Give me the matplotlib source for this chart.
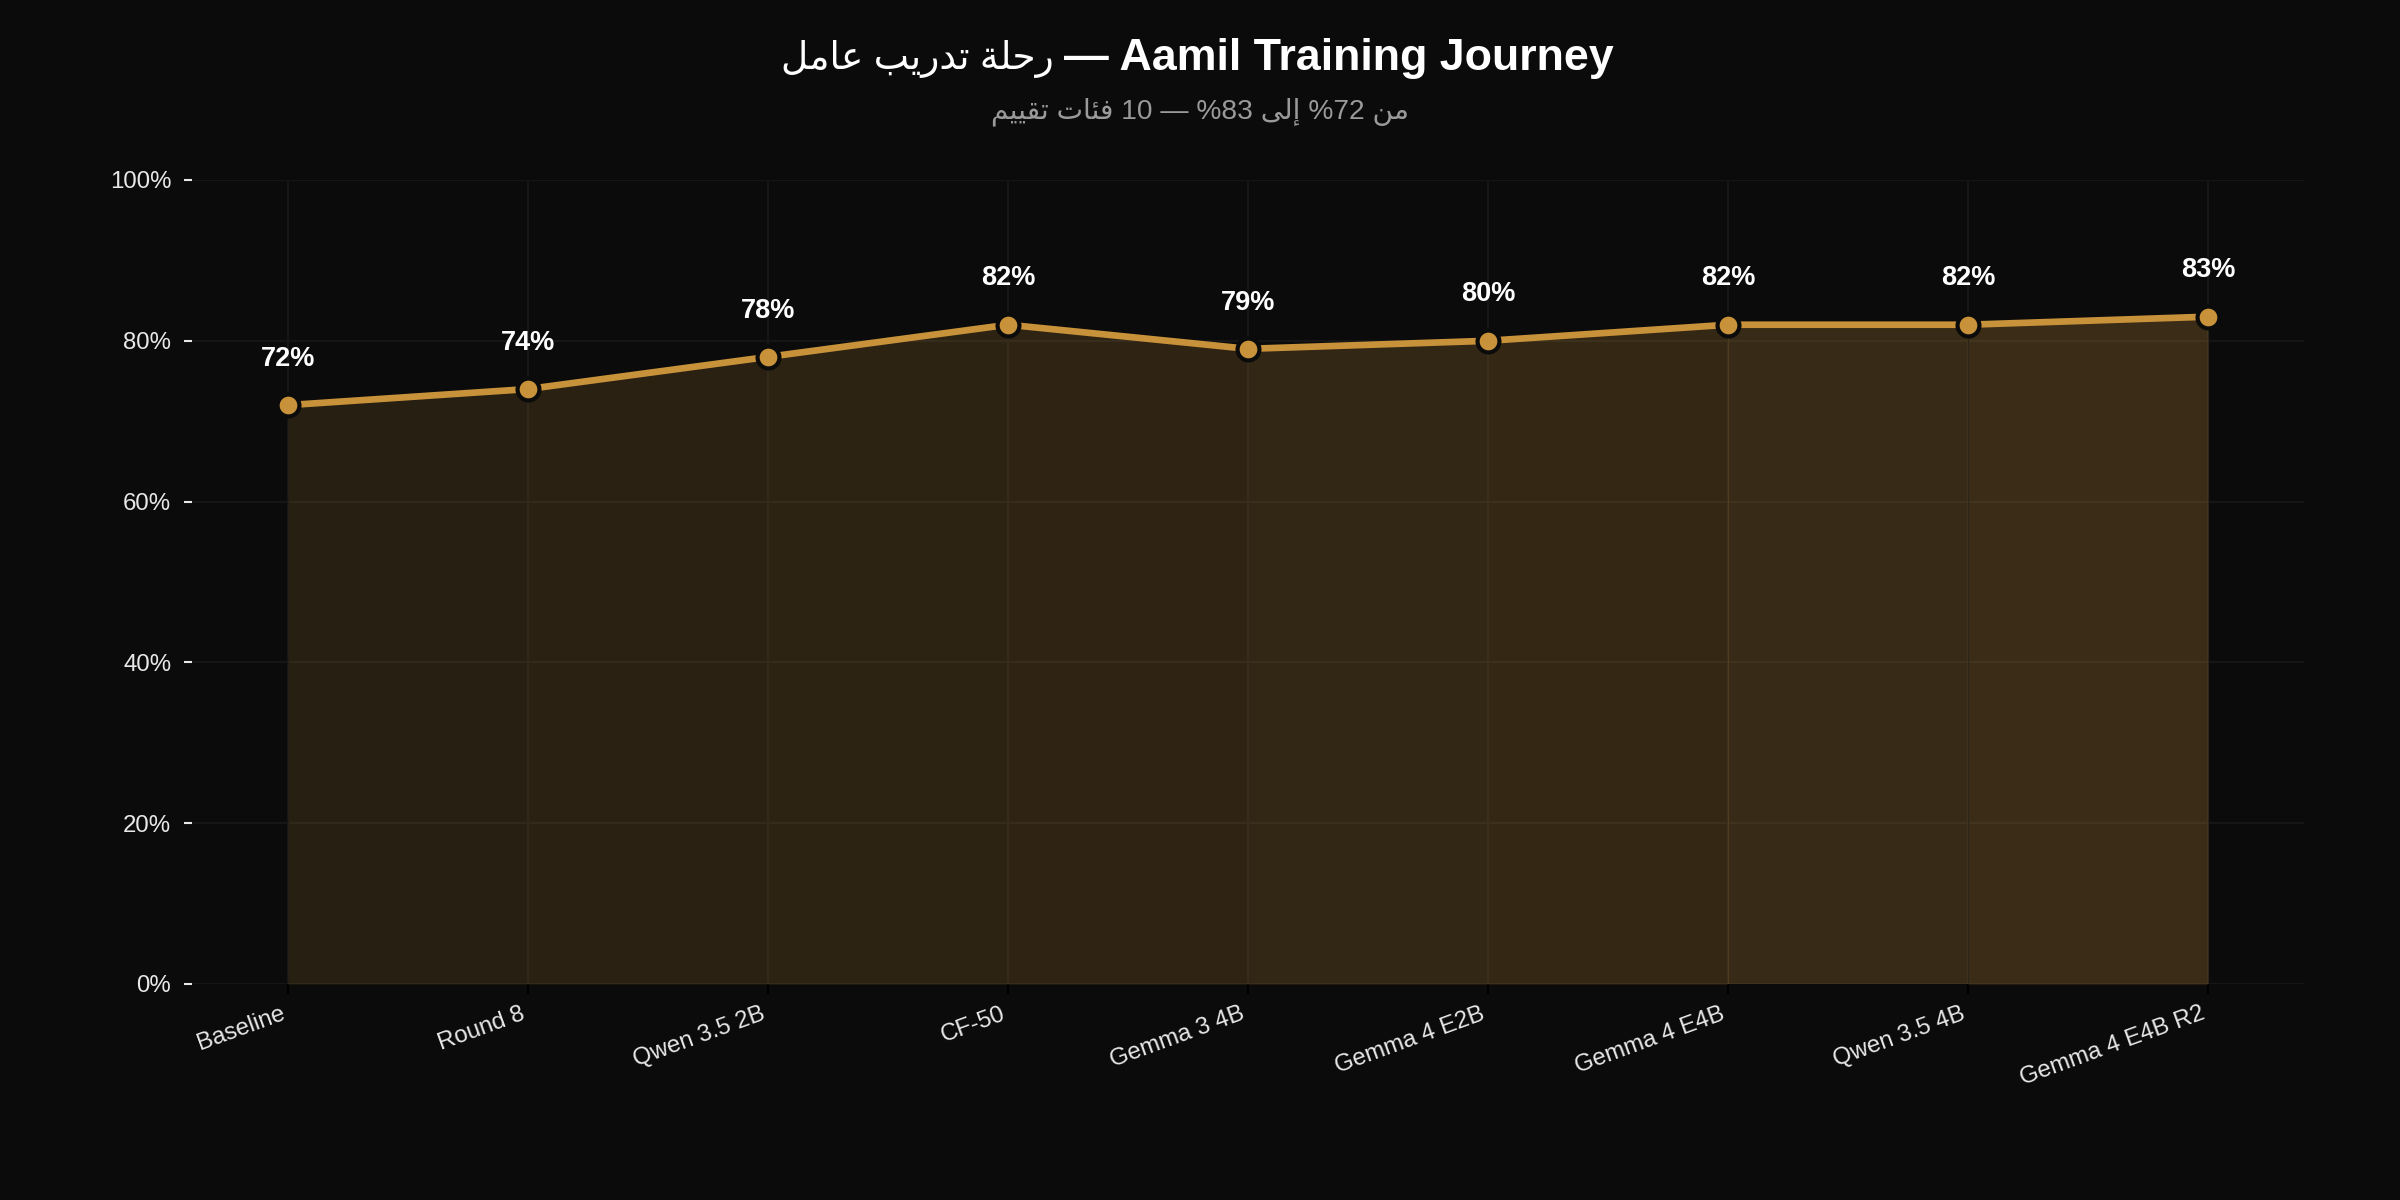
import matplotlib
matplotlib.use("Agg")
import matplotlib.pyplot as plt
import numpy as np

# ---------------- data ----------------
models = ["Baseline", "Round 8", "Qwen 3.5 2B", "CF-50", "Gemma 3 4B",
          "Gemma 4 E2B", "Gemma 4 E4B", "Qwen 3.5 4B", "Gemma 4 E4B R2"]
scores = [72, 74, 78, 82, 79, 80, 82, 82, 83]
y_ticks = [0, 20, 40, 60, 80, 100]
title_ar = "رحلة تدريب عامل"
title_en = "— Aamil Training Journey"
# subtitle tokens in visual (left-to-right) order; Arabic words get shaped below
subtitle_tokens_visual = ["تقييم", "فئات", "10", "—", "%83", "إلى", "%72", "من"]

# ---------------- minimal Arabic shaping (presentation forms) ----------------
FORMS = {
    'ا': ('\uFE8D', '\uFE8E', None, None),
    'إ': ('\uFE87', '\uFE88', None, None),
    'ب': ('\uFE8F', '\uFE90', '\uFE91', '\uFE92'),
    'ة': ('\uFE93', '\uFE94', None, None),
    'ت': ('\uFE95', '\uFE96', '\uFE97', '\uFE98'),
    'ح': ('\uFEA1', '\uFEA2', '\uFEA3', '\uFEA4'),
    'د': ('\uFEA9', '\uFEAA', None, None),
    'ر': ('\uFEAD', '\uFEAE', None, None),
    'ع': ('\uFEC9', '\uFECA', '\uFECB', '\uFECC'),
    'ف': ('\uFED1', '\uFED2', '\uFED3', '\uFED4'),
    'ق': ('\uFED5', '\uFED6', '\uFED7', '\uFED8'),
    'ل': ('\uFEDD', '\uFEDE', '\uFEDF', '\uFEE0'),
    'م': ('\uFEE1', '\uFEE2', '\uFEE3', '\uFEE4'),
    'ن': ('\uFEE5', '\uFEE6', '\uFEE7', '\uFEE8'),
    'ى': ('\uFEEF', '\uFEF0', None, None),
    'ي': ('\uFEF1', '\uFEF2', '\uFEF3', '\uFEF4'),
    'ئ': ('\uFE89', '\uFE8A', '\uFE8B', '\uFE8C'),
}


def shape_word(w):
    if not any(c in FORMS for c in w):
        return w
    out = []
    n = len(w)
    for i, c in enumerate(w):
        f = FORMS[c]
        prev_j = i > 0 and w[i - 1] in FORMS and FORMS[w[i - 1]][2] is not None
        next_j = i < n - 1 and w[i + 1] in FORMS and f[2] is not None
        if prev_j and next_j:
            out.append(f[3])
        elif prev_j:
            out.append(f[1])
        elif next_j:
            out.append(f[2])
        else:
            out.append(f[0])
    return "".join(reversed(out))


def rtl_phrase(s):
    return " ".join(shape_word(w) for w in reversed(s.split(" ")))


# ---------------- style ----------------
BG = "#0b0b0b"
GOLD = "#c8923a"
FONT = ["Liberation Sans", "DejaVu Sans"]
plt.rcParams["font.family"] = FONT

fig = plt.figure(figsize=(16, 8), dpi=150, facecolor=BG)
ax = fig.add_axes([0.08, 0.18, 0.88, 0.67])
ax.set_facecolor(BG)

x = np.arange(len(models))
n_seg = len(models) - 1
for i in range(n_seg):
    a = 0.15 + 0.10 * i / (n_seg - 1)
    ax.fill_between(x[i:i + 2], scores[i:i + 2], 0, color=GOLD, alpha=a,
                    linewidth=0, zorder=1)

ax.plot(x, scores, color=GOLD, lw=3.2, zorder=3, solid_capstyle="round")
ax.plot(x, scores, linestyle="none", marker="o", markersize=10.5,
        markerfacecolor=GOLD, markeredgecolor="#0b0b0b", markeredgewidth=2.0,
        zorder=4)

for xi, s in zip(x, scores):
    ax.annotate(f"{s}%", (xi, s), xytext=(0, 16), textcoords="offset points",
                ha="center", va="bottom", color="white", fontsize=13,
                fontweight="bold", zorder=5)

ax.set_xlim(-0.4, 8.4)
ax.set_ylim(0, 100)
ax.set_yticks(y_ticks)
ax.set_yticklabels([f"{v}%" for v in y_ticks])
ax.set_xticks(x)
ax.set_xticklabels(models, rotation=20, ha="right")

ax.tick_params(axis="y", colors="#e8e8e8", labelsize=11.5, length=4, width=1, pad=6)
ax.tick_params(axis="x", colors="#000000", labelcolor="#e8e8e8", labelsize=11.5,
               length=5, width=1, pad=4)
for sp in ax.spines.values():
    sp.set_visible(False)

ax.grid(True, color="#171717", linewidth=0.9, zorder=0)
ax.set_axisbelow(True)

# ---------------- titles ----------------
fig.canvas.draw()
renderer = fig.canvas.get_renderer()
t_ar = fig.text(0, 0.951, rtl_phrase(title_ar) + " ", color="white", fontsize=18,
                family=FONT, ha="left", va="center")
t_en = fig.text(0, 0.951, title_en, color="white", fontsize=21.5, fontweight="bold",
                family=FONT, ha="left", va="center")
w_ar = t_ar.get_window_extent(renderer).width / fig.bbox.width
w_en = t_en.get_window_extent(renderer).width / fig.bbox.width
x0 = 0.4987 - (w_ar + w_en) / 2
t_ar.set_x(x0)
t_en.set_x(x0 + w_ar)

subtitle = " ".join(shape_word(t) for t in subtitle_tokens_visual)
fig.text(0.5, 0.907, subtitle, color="#9a9a9a", fontsize=13.5, family=FONT,
         ha="center", va="center")

fig.savefig("out.png", dpi=150, facecolor=BG)
